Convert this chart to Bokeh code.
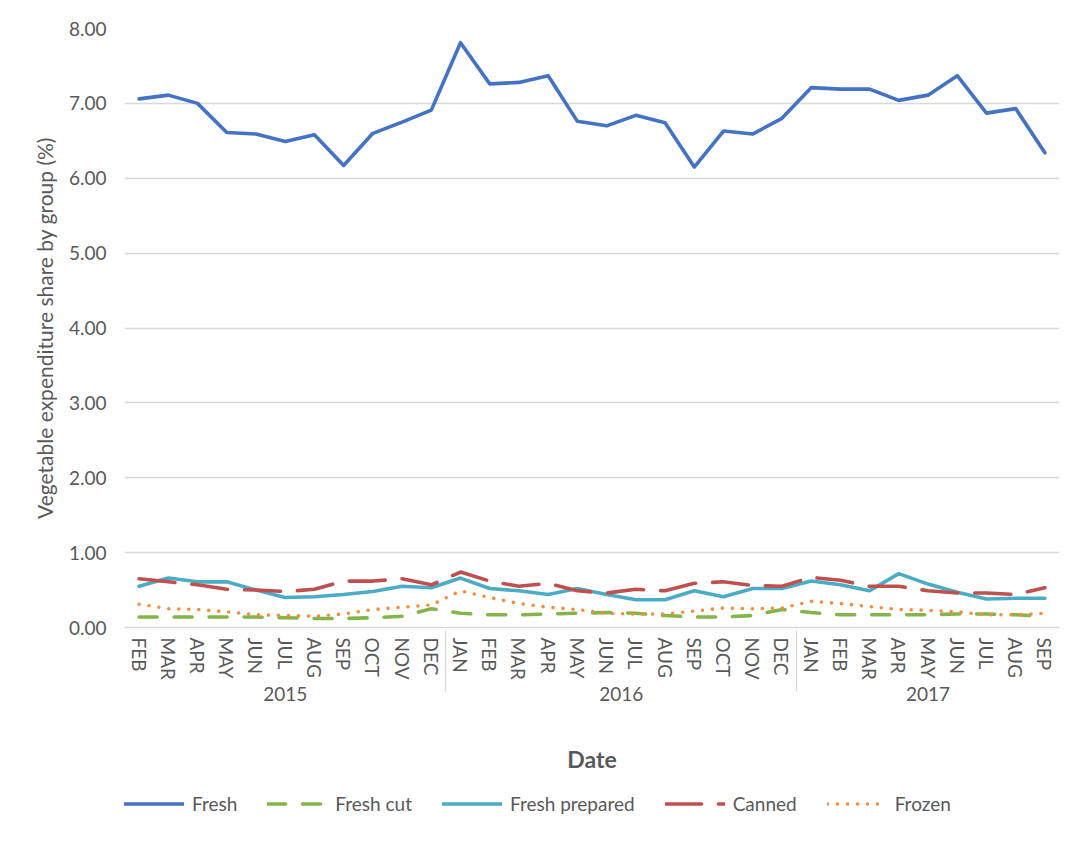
from bokeh.plotting import figure
from bokeh.layouts import column
from bokeh.models import FactorRange, Range1d, Legend, LegendItem, NumeralTickFormatter, FixedTicker
from bokeh.embed import file_html
from bokeh.resources import INLINE

years = ["2015"] * 11 + ["2016"] * 12 + ["2017"] * 9
months = ["FEB", "MAR", "APR", "MAY", "JUN", "JUL", "AUG", "SEP", "OCT", "NOV", "DEC",
          "JAN", "FEB", "MAR", "APR", "MAY", "JUN", "JUL", "AUG", "SEP", "OCT", "NOV", "DEC",
          "JAN", "FEB", "MAR", "APR", "MAY", "JUN", "JUL", "AUG", "SEP"]

fresh = [7.06, 7.11, 7.00, 6.61, 6.59, 6.49, 6.58, 6.17, 6.60, 6.75, 6.91,
         7.81, 7.26, 7.28, 7.37, 6.76, 6.70, 6.84, 6.74, 6.15, 6.63, 6.59, 6.80,
         7.21, 7.19, 7.19, 7.04, 7.11, 7.37, 6.87, 6.93, 6.34]
fresh_cut = [0.14, 0.14, 0.14, 0.14, 0.14, 0.13, 0.12, 0.12, 0.13, 0.15, 0.25,
             0.19, 0.17, 0.17, 0.18, 0.19, 0.20, 0.19, 0.16, 0.14, 0.14, 0.16, 0.24,
             0.20, 0.17, 0.17, 0.17, 0.17, 0.18, 0.18, 0.17, 0.15]
fresh_prepared = [0.55, 0.66, 0.61, 0.61, 0.50, 0.40, 0.41, 0.44, 0.48, 0.55, 0.53,
                  0.66, 0.52, 0.49, 0.44, 0.52, 0.44, 0.37, 0.37, 0.49, 0.41, 0.52, 0.52,
                  0.62, 0.57, 0.49, 0.72, 0.58, 0.47, 0.38, 0.39, 0.39]
canned = [0.65, 0.61, 0.57, 0.51, 0.50, 0.48, 0.51, 0.62, 0.62, 0.65, 0.57,
          0.74, 0.62, 0.55, 0.59, 0.49, 0.46, 0.51, 0.49, 0.59, 0.61, 0.56, 0.55,
          0.67, 0.63, 0.55, 0.55, 0.49, 0.46, 0.46, 0.44, 0.53]
frozen = [0.31, 0.25, 0.24, 0.21, 0.17, 0.16, 0.15, 0.18, 0.24, 0.27, 0.30,
          0.49, 0.40, 0.32, 0.27, 0.24, 0.19, 0.18, 0.18, 0.22, 0.26, 0.25, 0.26,
          0.35, 0.32, 0.28, 0.24, 0.23, 0.21, 0.17, 0.17, 0.19]

series_names = ["Fresh", "Fresh cut", "Fresh prepared", "Canned", "Frozen"]
y_ticks = [0, 1, 2, 3, 4, 5, 6, 7, 8]

FONT = "Lato"
TXT = "#595959"
GRID = "#d9d9d9"
W = 3.6
styles = [
    dict(line_color="#4472C4", line_width=W, line_join="round", line_cap="round"),
    dict(line_color="#84B54A", line_width=W, line_dash="18 17", line_join="round", line_cap="round"),
    dict(line_color="#4BACC6", line_width=W, line_join="round", line_cap="round"),
    dict(line_color="#C0504D", line_width=W, line_dash="36 17", line_join="round", line_cap="round"),
    dict(line_color="#F68B3C", line_width=W, line_dash="0 10", line_join="round", line_cap="round"),
]
series = [fresh, fresh_cut, fresh_prepared, canned, frozen]

factors = list(zip(years, months))

p = figure(x_range=FactorRange(*factors, group_padding=0, range_padding=0),
           y_range=Range1d(0, 8),
           width=1076, height=782,
           output_backend="svg", toolbar_location=None,
           min_border_left=124, min_border_right=17,
           min_border_top=28, min_border_bottom=155)
p.outline_line_color = None
p.xgrid.grid_line_color = None
p.ygrid.grid_line_color = GRID
p.ygrid.grid_line_width = 1.3

p.yaxis.ticker = FixedTicker(ticks=y_ticks)
p.yaxis.formatter = NumeralTickFormatter(format="0.00")
p.yaxis.axis_line_color = None
p.yaxis.major_tick_line_color = None
p.yaxis.minor_tick_line_color = None
p.yaxis.major_label_standoff = 12
p.yaxis.major_label_text_font = FONT
p.yaxis.major_label_text_font_size = "19px"
p.yaxis.major_label_text_color = TXT
p.yaxis.axis_label = "Vegetable expenditure share by group (%)"
p.yaxis.axis_label_text_font = FONT
p.yaxis.axis_label_text_font_size = "21px"
p.yaxis.axis_label_text_font_style = "normal"
p.yaxis.axis_label_text_color = TXT
p.yaxis.axis_label_standoff = 9

xa = p.xaxis[0]
xa.axis_line_color = GRID
xa.axis_line_width = 1.3
xa.major_tick_line_color = None
xa.minor_tick_line_color = None
xa.major_label_orientation = "vertical"
xa.major_label_standoff = 4
xa.major_label_text_font = FONT
xa.major_label_text_font_size = "19px"
xa.major_label_text_color = TXT
xa.group_text_font = FONT
xa.group_text_font_size = "19px"
xa.group_text_color = TXT
xa.group_text_font_style = "normal"
xa.separator_line_color = GRID
xa.separator_line_width = 1.3
xa.axis_label = "Date"
xa.axis_label_text_font = FONT
xa.axis_label_text_font_size = "23px"
xa.axis_label_text_font_style = "bold"
xa.axis_label_text_color = TXT
xa.axis_label_standoff = 41

for vals, st in zip(series, styles):
    p.line(factors, vals, **st)

# legend strip below the chart: same series drawn into a hidden range, only legend keys show
idx = list(range(len(months)))
p2 = figure(width=1076, height=42, output_backend="svg", toolbar_location=None,
            x_range=Range1d(0, 1), y_range=Range1d(100, 101),
            x_axis_type=None, y_axis_type=None,
            min_border_left=0, min_border_right=0, min_border_top=0, min_border_bottom=0)
p2.outline_line_color = None
p2.xgrid.grid_line_color = None
p2.ygrid.grid_line_color = None
keys = [p2.line(idx, vals, **st) for vals, st in zip(series, styles)]
legend = Legend(items=[LegendItem(label=n, renderers=[k]) for n, k in zip(series_names, keys)],
                orientation="horizontal", location="center_left")
legend.label_text_font = FONT
legend.label_text_font_size = "19px"
legend.label_text_color = TXT
legend.glyph_width = 60
legend.label_standoff = 8
legend.spacing = 30
legend.padding = 5
legend.margin = 0
legend.border_line_color = None
legend.background_fill_alpha = 0
p2.add_layout(legend, "center")

open("out.html", "w").write(file_html(column(p, p2, spacing=0), INLINE))
